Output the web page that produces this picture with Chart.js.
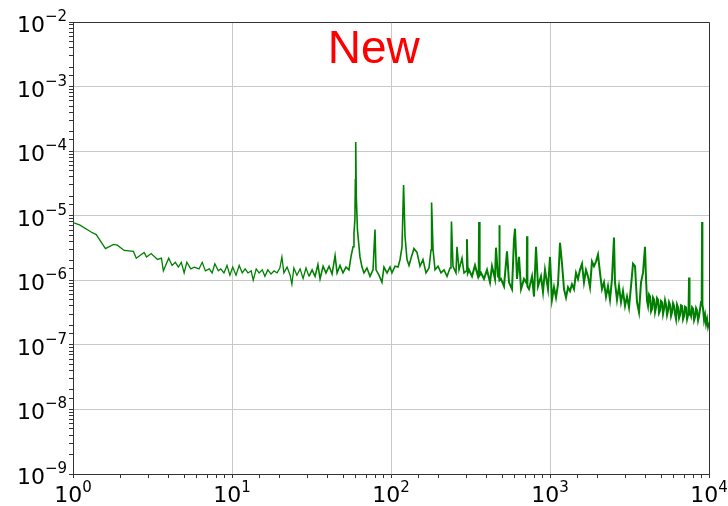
<!DOCTYPE html>
<html>
<head>
<meta charset="utf-8">
<script src="https://cdn.jsdelivr.net/npm/chart.js@4.4.0/dist/chart.umd.min.js"></script>
<style>
  body { margin: 0; background: #fff; }
  #wrap { width: 728px; height: 506px; }
</style>
</head>
<body>
<div id="wrap"><canvas id="chart"></canvas></div>
<script>
// spectrum (Hz, value)
const freqs = [
  1.0, 1.1, 1.3, 1.4, 1.6, 1.8, 1.9, 2.1, 2.4, 2.5, 2.8, 2.9, 3.1, 3.4, 3.6, 3.7, 4.0, 4.2, 4.4, 4.6,
  4.8, 5.0, 5.2, 5.5, 5.8, 6.2, 6.5, 6.8, 7.2, 7.5, 7.8, 8.2, 8.5, 8.9, 9.3, 9.7, 10.1,
  10.6, 11.1, 11.6, 12.1, 12.6, 13.2, 13.6, 14.2, 14.8, 15.5, 16.1, 16.8, 17.6, 18.4, 19.2, 20.0, 20.6,
  21.2, 22.2, 23.2, 23.8, 24.5, 25.6, 26.8, 28.0, 29.2, 30.5, 31.9, 33.3, 34.7, 35.8, 37.4, 39.0,
  40.8, 42.6, 44.5, 45.8, 47.8, 49.9, 52.1, 54.4, 56.0, 57.7, 58.5, 59.3, 59.7, 60.0, 60.5, 61.5,
  63.8, 65.7, 67.6, 70.6, 73.8, 77.1, 79.3, 80.5, 84.0, 87.7, 90.3, 94.4, 98.6, 101.4, 106.0,
  110.7, 114.0, 117.3, 120.0, 122.5, 126.1, 129.8, 133.6, 139.5, 145.7, 152.2, 158.9, 166.0, 173.4,
  178.5, 180.0, 183.8, 189.2, 197.6, 206.3, 215.5, 225.1, 235.1, 238.4, 240.0, 245.4, 256.3, 260.0,
  267.7, 279.6, 287.8, 298.0, 300.0, 304.0, 309.5, 323.2, 337.5, 352.5, 356.0, 358.0, 361.0, 368.2,
  384.5, 401.6, 419.4, 431.7, 450.9, 457.4, 470.9, 478.0, 480.0, 483.0, 491.8, 513.6, 536.5, 552.3,
  576.8, 593.7, 602.5, 620.2, 638.4, 657.3, 686.5, 714.0, 717.0, 721.0, 738.0, 770.8, 793.3, 816.6,
  840.6, 877.8, 903.6, 930.1, 971.2, 1000,
  1029, 1060, 1091, 1123, 1156, 1190, 1225, 1261, 1298, 1336, 1375, 1416, 1457, 1500, 1544, 1590,
  1636, 1684, 1734, 1785, 1837, 1891, 1946, 2004, 2063, 2123, 2186, 2250, 2316, 2384, 2454, 2526,
  2563, 2639, 2716, 2796, 2878, 2963, 3050, 3140, 3232, 3327, 3425, 3525, 3629, 3736, 3846, 3959,
  4017, 4076, 4135, 4196, 4257, 4320, 4382, 4446, 4511, 4577, 4644, 4712, 4780, 4850, 4921, 4993,
  5066, 5140, 5215, 5291, 5368, 5447, 5526, 5607, 5689, 5772, 5856, 5942, 6028, 6116, 6205, 6296,
  6388, 6482, 6576, 6672, 6769, 6868, 6968, 7070, 7173, 7278, 7384, 7440, 7492, 7540, 7712, 7825,
  7939, 8055, 8172, 8292, 8413, 8536, 8660, 8786, 8915, 9000, 9045, 9090, 9177, 9310, 9447, 9585,
  9725, 9860, 10000
];
const psd = [
  7.8e-6, 7.2e-6, 5.6e-6, 5.1e-6, 3.1e-6, 3.6e-6, 3.5e-6, 2.9e-6, 2.8e-6, 2.2e-6, 2.7e-6, 2.3e-6, 2.6e-6, 2.1e-6, 2.2e-6, 1.4e-6, 2.2e-6, 1.7e-6, 1.9e-6, 1.6e-6,
  1.9e-6, 1.3e-6, 1.9e-6, 1.5e-6, 1.6e-6, 1.5e-6, 1.9e-6, 1.4e-6, 1.5e-6, 1.3e-6, 1.8e-6, 1.4e-6, 1.5e-6, 1.3e-6, 1.7e-6, 1.2e-6, 1.6e-6,
  1.2e-6, 1.7e-6, 1.3e-6, 1.5e-6, 1.3e-6, 1.4e-6, 1.0e-6, 1.5e-6, 1.3e-6, 1.45e-6, 1.15e-6, 1.45e-6, 1.25e-6, 1.4e-6, 1.3e-6, 1.55e-6, 2.3e-6,
  1.3e-6, 1.6e-6, 1.2e-6, 8.7e-7, 1.55e-6, 1.2e-6, 1.5e-6, 1.07e-6, 1.55e-6, 1.15e-6, 1.45e-6, 1.15e-6, 1.75e-6, 1.05e-6, 1.65e-6, 1.3e-6,
  1.65e-6, 1.25e-6, 2.4e-6, 1.3e-6, 1.7e-6, 1.3e-6, 1.6e-6, 1.45e-6, 2.3e-6, 3.3e-6, 5.4e-6, 8.7e-6, 3.6e-5, 1.38e-4, 2.0e-5, 6.1e-6,
  2.3e-6, 1.6e-6, 1.3e-6, 1.55e-6, 1.15e-6, 1.45e-6, 6.1e-6, 1.45e-6, 1.2e-6, 9.3e-7, 1.6e-6, 1.3e-6, 1.6e-6, 1.3e-6, 1.65e-6,
  1.6e-6, 2.1e-6, 3.3e-6, 3.0e-5, 4.8e-6, 2.1e-6, 1.7e-6, 2.2e-6, 3.1e-6, 2.7e-6, 1.65e-6, 2.1e-6, 1.3e-6, 1.55e-6,
  2.95e-6, 1.6e-5, 3.0e-6, 1.45e-6, 1.65e-6, 1.3e-6, 1.45e-6, 1.15e-6, 1.55e-6, 2.1e-6, 8.1e-6, 1.65e-6, 1.3e-6, 3.3e-6,
  1.45e-6, 2.2e-6, 1.3e-6, 1.4e-6, 4.3e-6, 1.3e-6, 1.45e-6, 1.15e-6, 1.7e-6, 1.15e-6, 1.3e-6, 8.0e-6, 1.2e-6, 1.3e-6,
  1.05e-6, 1.45e-6, 9.3e-7, 1.65e-6, 1.05e-6, 3.2e-6, 1.15e-6, 1.1e-6, 7.1e-6, 1.0e-6, 1.05e-6, 8.1e-7, 2.8e-6, 9.3e-7,
  7.3e-7, 4.3e-6, 6.3e-6, 1.05e-6, 2.3e-6, 7.3e-7, 1.05e-6, 9.0e-7, 4.8e-6, 8.0e-7, 7.3e-7, 1.15e-6, 5.6e-7, 3.3e-6,
  8.1e-7, 1.15e-6, 6.6e-7, 1.45e-6, 7.3e-7, 2.3e-6,
  5.0e-7, 7.8e-7, 5.4e-7, 8.7e-7, 3.8e-6, 1.8e-6, 7.3e-7, 5.4e-7, 7.8e-7, 6.8e-7, 8.7e-7, 7.3e-7, 1.3e-6, 1.05e-6, 1.45e-6, 1.8e-6,
  9.3e-7, 1.45e-6, 1.15e-6, 7.8e-7, 1.95e-6, 1.65e-6, 1.95e-6, 2.5e-6, 1.3e-6, 7.3e-7, 9.3e-7, 5.6e-7, 8.1e-7, 5.0e-7, 1.05e-6, 4.6e-6,
  9.3e-7, 5.0e-7, 8.1e-7, 4.6e-7, 6.8e-7, 4.0e-7, 5.6e-7, 3.8e-7, 8.1e-7, 1.8e-6, 1.65e-6, 4.6e-7, 3.2e-7, 9.3e-7, 1.3e-6, 3.3e-6,
  1.05e-6, 4.8e-7, 4.0e-7, 6.0e-7, 5.6e-7, 3.3e-7, 3.6e-7, 5.4e-7, 5.0e-7, 3.2e-7, 3.8e-7, 5.3e-7, 5.0e-7, 3.1e-7, 3.4e-7, 4.8e-7,
  4.6e-7, 3.0e-7, 3.6e-7, 4.9e-7, 4.2e-7, 2.9e-7, 3.4e-7, 4.6e-7, 4.2e-7, 2.8e-7, 3.2e-7, 4.4e-7, 4.0e-7, 3.0e-7, 2.5e-7, 4.2e-7,
  3.8e-7, 2.6e-7, 2.9e-7, 4.1e-7, 4.0e-7, 2.5e-7, 2.8e-7, 3.9e-7, 3.8e-7, 2.5e-7, 2.9e-7, 3.6e-7, 1.1e-6, 3.4e-7, 2.8e-7, 3.8e-7,
  3.6e-7, 2.4e-7, 2.7e-7, 3.7e-7, 3.4e-7, 2.4e-7, 2.8e-7, 3.6e-7, 4.6e-7, 5.5e-7, 8.0e-6, 4.2e-7, 3.6e-7, 2.4e-7, 2.9e-7, 2.1e-7,
  2.5e-7, 1.9e-7, 2.2e-7
];
const xExponents = [0, 1, 2, 3, 4];
const yExponents = [-9, -8, -7, -6, -5, -4, -3, -2];
const titleText = 'New';

const isPow10 = v => Math.abs(Math.log10(v) - Math.round(Math.log10(v))) < 1e-6;

// draws 10^n labels with a raised exponent, like matplotlib
const powerLabels = {
  id: 'powerLabels',
  afterDraw(chart) {
    const ctx = chart.ctx;
    const xs = chart.scales.x, ys = chart.scales.y;
    const baseFont = '22px "DejaVu Sans"';
    const expFont = '15px "DejaVu Sans"';
    ctx.save();
    ctx.fillStyle = '#000';
    ctx.textAlign = 'left';
    ctx.textBaseline = 'alphabetic';
    yExponents.forEach(e => {
      const y = ys.getPixelForValue(Math.pow(10, e));
      const ex = '\u2212' + Math.abs(e);
      ctx.font = expFont;
      const we = ctx.measureText(ex).width;
      ctx.fillText(ex, 67 - we, y - 1);
      ctx.font = baseFont;
      const wb = ctx.measureText('10').width;
      ctx.fillText('10', 67 - we - wb, y + 10);
    });
    xExponents.forEach(e => {
      const x = xs.getPixelForValue(Math.pow(10, e));
      const ex = String(e);
      ctx.font = expFont;
      const we = ctx.measureText(ex).width;
      ctx.font = baseFont;
      const wb = ctx.measureText('10').width;
      const start = x - (wb + we) / 2;
      ctx.fillText('10', start, 502);
      ctx.font = expFont;
      ctx.fillText(ex, start + wb, 492);
    });
    ctx.restore();
  }
};

// top/right spines + the red label inside the plot
const frameAndTitle = {
  id: 'frameAndTitle',
  afterDatasetsDraw(chart) {
    const { ctx, chartArea: a } = chart;
    ctx.save();
    ctx.strokeStyle = '#333';
    ctx.lineWidth = 1;
    ctx.beginPath();
    ctx.moveTo(a.left, a.top + 0.5);
    ctx.lineTo(a.right + 0.5, a.top + 0.5);
    ctx.lineTo(a.right + 0.5, a.bottom);
    ctx.stroke();
    ctx.fillStyle = '#ff0000';
    ctx.font = '46px "Liberation Sans", Arial, sans-serif';
    ctx.textAlign = 'center';
    ctx.textBaseline = 'alphabetic';
    ctx.fillText(titleText, a.left + 0.473 * (a.right - a.left), a.top + 41);
    ctx.restore();
  }
};

const gridColor = c => (c.tick && isPow10(c.tick.value)) ? '#c8c8c8' : 'rgba(0,0,0,0)';

// denser data up high looks heavier in the original
const segWidth = c => {
  const f = c.p0.parsed.x;
  return f < 30 ? 1.3 : f < 300 ? 1.6 : 2.0;
};

new Chart(document.getElementById('chart'), {
  type: 'line',
  data: {
    datasets: [{
      data: freqs.map((f, i) => ({ x: f, y: psd[i] })),
      borderColor: 'green',
      borderWidth: 1.4,
      segment: { borderWidth: segWidth },
      pointRadius: 0,
      tension: 0,
      fill: false
    }]
  },
  options: {
    responsive: true,
    maintainAspectRatio: false,
    animation: false,
    layout: { padding: { top: 22, right: 19, left: 0, bottom: 0 } },
    plugins: { legend: { display: false }, tooltip: { enabled: false } },
    scales: {
      x: {
        type: 'logarithmic',
        min: 1,
        max: 10000,
        afterFit: s => { s.height = 32; },
        grid: { color: gridColor, tickColor: '#333', tickLength: 4, lineWidth: 1 },
        border: { color: '#333', width: 1 },
        ticks: { autoSkip: false, maxRotation: 0, callback: () => '', font: { size: 1 } }
      },
      y: {
        type: 'logarithmic',
        min: 1e-9,
        max: 1e-2,
        afterFit: s => { s.width = 73; },
        grid: { color: gridColor, tickColor: '#333', tickLength: 4, lineWidth: 1 },
        border: { color: '#333', width: 1 },
        ticks: { autoSkip: false, callback: () => '', font: { size: 1 } }
      }
    }
  },
  plugins: [powerLabels, frameAndTitle]
});
</script>
</body>
</html>
